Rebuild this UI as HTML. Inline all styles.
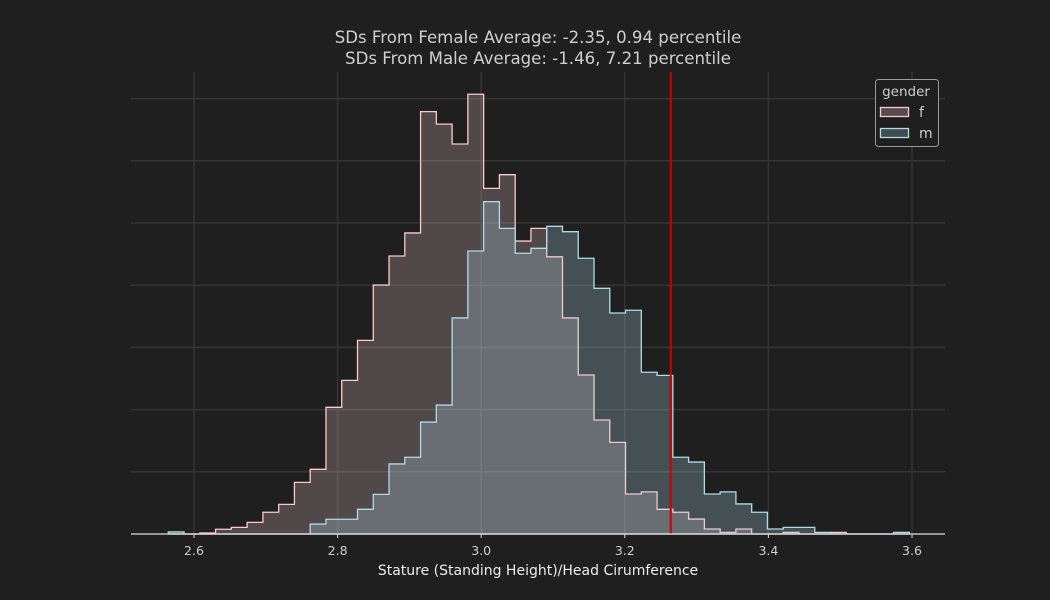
<!DOCTYPE html>
<html><head><meta charset="utf-8"><style>
html,body{margin:0;padding:0;background:#1f1f1f;}
svg{display:block;font-family:"DejaVu Sans","Liberation Sans",sans-serif;}
</style></head><body>
<svg id="chart" width="1050" height="600">
<rect width="1050" height="600" fill="#1f1f1f"/>
<text x="538" y="43" text-anchor="middle" font-size="16.6" fill="#cfcfcf">SDs From Female Average: -2.35, 0.94 percentile</text>
<text x="538" y="64" text-anchor="middle" font-size="16.6" fill="#cfcfcf">SDs From Male Average: -1.46, 7.21 percentile</text>
<g id="grid"></g>
<g id="bars"></g>
<g id="axis"></g>
<text x="538" y="575" text-anchor="middle" font-size="14" fill="#ececec">Stature (Standing Height)/Head Cirumference</text>
<g>
<rect x="875.5" y="79.5" width="63" height="67" rx="3" fill="#1f1f1f" stroke="#9a9a9a" stroke-width="1"/>
<text x="906" y="96" text-anchor="middle" font-size="13.5" fill="#cfcfcf">gender</text>
<rect x="880.5" y="107.5" width="28" height="9" fill="#574c4d" stroke="#ffc8d0" stroke-width="1.3"/>
<text x="919" y="117" font-size="14" fill="#cfcfcf">f</text>
<rect x="880.5" y="128.5" width="28" height="9" fill="#414b50" stroke="#b0dce8" stroke-width="1.3"/>
<text x="919" y="138" font-size="14" fill="#cfcfcf">m</text>
</g>
</svg>
<script>
const binStart = 2.5642;
const binWidth = 0.02196;
const femaleCounts = [0,0,0.5,2.3,3.2,5.6,10.5,14.3,24.9,31.2,61.1,74.1,93.4,120.1,134.1,145.2,203.7,197.7,188.1,212.1,166.7,173.3,141.3,147.4,133.7,104.2,76.7,55,44.2,19.3,20.3,11.9,10.5,7.2,2.4,0.8,2.4,0,0,0.8,0,0,0.8,0,0,0,0];
const maleCounts = [1,0,0,0,0,0,0,0,0,4.8,7.1,7.1,11.9,19.1,33.8,37,54,62.2,104.2,136.5,160.3,147.4,135.4,137.8,148.4,145.8,133,118.5,106.6,107.9,78,76.5,37,34.7,19.3,20.3,14.5,10.5,2.4,3.2,3.2,0.8,0,0,0,0,0.8];
const xTicks = [2.6,2.8,3.0,3.2,3.4,3.6];
const xTickLabels = ["2.6","2.8","3.0","3.2","3.4","3.6"];
const yGrid = [0,30,60,90,120,150,180,210];
const userValue = 3.2639;

const NS="http://www.w3.org/2000/svg";
const X0=131,X1=945,Y0=534;
const xs=v=>194+(v-2.6)*718;
const ys=v=>Y0-v*62.2/30;
function mk(tag,attrs,parent){const e=document.createElementNS(NS,tag);for(const k in attrs)e.setAttribute(k,attrs[k]);parent.appendChild(e);return e;}
const grid=document.getElementById('grid'),bars=document.getElementById('bars'),axis=document.getElementById('axis');
yGrid.forEach(v=>{const l=mk('line',{x1:X0,x2:X1,y1:ys(v),y2:ys(v),stroke:'#343434','stroke-width':1.5},grid);

});
xTicks.forEach(v=>{const l=mk('line',{x1:xs(v),x2:xs(v),y1:72,y2:Y0,stroke:'#343434','stroke-width':1.5},grid);

});
function stepPath(counts){let d='M'+xs(binStart)+','+Y0;counts.forEach((c,i)=>{const a=xs(binStart+i*binWidth),b=xs(binStart+(i+1)*binWidth);d+=' L'+a+','+ys(c)+' L'+b+','+ys(c);});d+=' L'+xs(binStart+counts.length*binWidth)+','+Y0+' Z';return d;}
const pf=mk('path',{d:stepPath(femaleCounts),fill:'rgba(240,205,210,0.24)',stroke:'#ffc8d0','stroke-width':1.3},bars);


const pm=mk('path',{d:stepPath(maleCounts),fill:'rgba(173,216,230,0.27)',stroke:'#b0dce8','stroke-width':1.3},bars);


const rl=mk('line',{x1:xs(userValue),x2:xs(userValue),y1:72,y2:Y0,stroke:'#cc0000','stroke-width':2},bars);


const al=mk('line',{x1:X0,x2:X1,y1:Y0,y2:Y0,stroke:'#d8d8d8','stroke-width':1.3},axis);


xTicks.forEach((v,i)=>{const t=mk('line',{x1:xs(v),x2:xs(v),y1:Y0,y2:Y0+4,stroke:'#d8d8d8','stroke-width':1},axis);


const tx=mk('text',{x:xs(v),y:555,'text-anchor':'middle','font-size':12.5,fill:'#cfcfcf'},axis);tx.textContent=xTickLabels[i];

});
</script>
</body></html>
